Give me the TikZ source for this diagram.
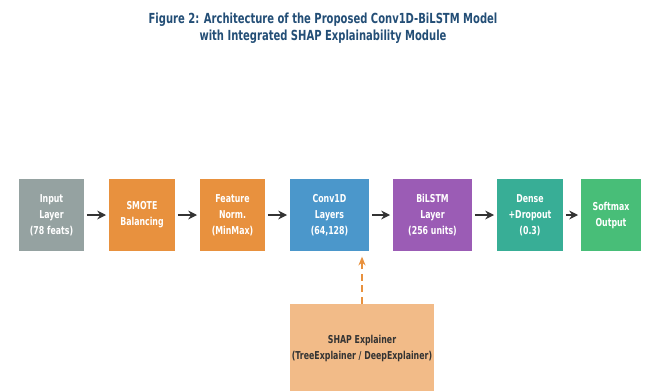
\documentclass[tikz,border=0pt]{standalone}
\usepackage{fontspec}
\setmainfont{DejaVu Sans}[FakeStretch=0.72]
\usetikzlibrary{arrows.meta}

\definecolor{titleblue}{RGB}{35,78,118}
\definecolor{ingray}{RGB}{149,162,161}
\definecolor{prorange}{RGB}{232,145,62}
\definecolor{convblue}{RGB}{75,151,203}
\definecolor{lstmpurple}{RGB}{155,92,181}
\definecolor{denseteal}{RGB}{56,174,150}
\definecolor{outgreen}{RGB}{72,190,120}
\definecolor{shappeach}{RGB}{242,187,136}
\definecolor{arrowdark}{RGB}{51,51,51}

\begin{document}
\begin{tikzpicture}
				[
					x = 0.02cm, y = -0.02cm,
					layer/.style = {draw = none, minimum height = 1.44cm, inner sep = 0pt, align = center,
						text = white, font = \bfseries\fontsize{6.2}{9.1}\selectfont},
					flow/.style = {-{Stealth[length = 5pt, width = 5pt]}, line width = 1.1pt, arrowdark,
						shorten < = 1.5pt, shorten > = 1.5pt},
					explain/.style = {-{Stealth[length = 5pt, width = 4pt]}, line width = 1.1pt, prorange,
						dash pattern = on 4pt off 2.5pt}
				]
				\useasboundingbox (0,0) rectangle (646,390);
				% title
				\node[text = titleblue, align = center, font = \bfseries\fontsize{7.9}{9.6}\selectfont]
					(title) at (323,28) {Figure 2: Architecture of the Proposed Conv1D-BiLSTM Model\\
						with Integrated SHAP Explainability Module};
				% pipeline
				\node[layer, fill = ingray, minimum width = 1.30cm] (input) at (51.5,215) {Input\\Layer\\(78 feats)};
				\node[layer, fill = prorange, minimum width = 1.32cm] (smote) at (142,215) {SMOTE\\Balancing};
				\node[layer, fill = prorange, minimum width = 1.30cm] (norm) at (232.5,215) {Feature\\Norm.\\(MinMax)};
				\node[layer, fill = convblue, minimum width = 1.58cm] (conv) at (329.5,215) {Conv1D\\Layers\\(64,128)};
				\node[layer, fill = lstmpurple, minimum width = 1.58cm] (lstm) at (432.5,215) {BiLSTM\\Layer\\(256 units)};
				\node[layer, fill = denseteal, minimum width = 1.32cm] (dense) at (530,215) {Dense\\+Dropout\\(0.3)};
				\node[layer, fill = outgreen, minimum width = 1.20cm] (softmax) at (611,215) {Softmax\\Output};
				% explainer
				\node[layer, fill = shappeach, text = arrowdark, minimum width = 2.88cm, minimum height = 1.76cm]
					(shap) at (362,348) {SHAP Explainer\\(TreeExplainer / DeepExplainer)};
				\coordinate (tap) at (shap.north |- conv.south);

				\draw[flow] (input) -- (smote);
				\draw[flow] (smote) -- (norm);
				\draw[flow] (norm) -- (conv);
				\draw[flow] (conv) -- (lstm);
				\draw[flow] (lstm) -- (dense);
				\draw[flow] (dense) -- (softmax);
				\draw[explain, shorten > = 3pt] (shap.north) -- (tap);
		\end{tikzpicture}
\end{document}
